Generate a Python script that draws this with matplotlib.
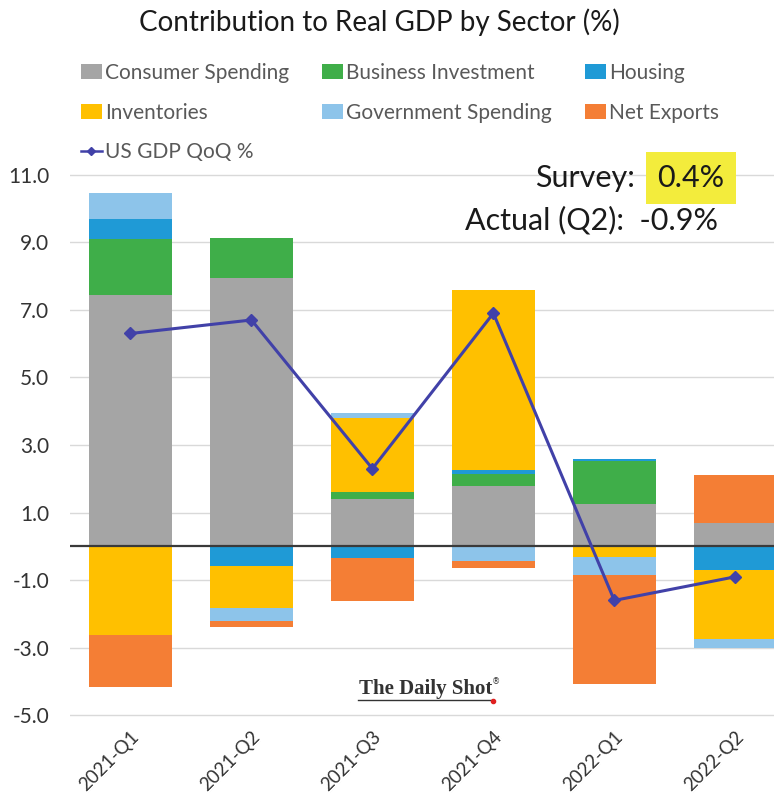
import numpy as np
import matplotlib
matplotlib.use("Agg")
import matplotlib.pyplot as plt
from matplotlib.patches import Patch
from matplotlib.lines import Line2D

plt.rcParams['font.family'] = ['Lato', 'DejaVu Sans']

quarters = ['2021-Q1', '2021-Q2', '2021-Q3', '2021-Q4', '2022-Q1', '2022-Q2']

consumer = [7.44, 7.93, 1.39, 1.78, 1.26, 0.69]
business = [1.66, 1.21, 0.22, 0.37, 1.28, 0.0]
housing = [0.60, -0.58, -0.35, 0.12, 0.04, -0.70]
inventories = [-2.63, -1.25, 2.18, 5.32, -0.32, -2.03]
government = [0.76, -0.37, 0.17, -0.43, -0.52, -0.29]
net_exports = [-1.53, -0.18, -1.28, -0.22, -3.22, 1.43]
gdp = [6.3, 6.7, 2.3, 6.9, -1.6, -0.9]

series = [
    ('Consumer Spending', consumer, '#A5A5A5'),
    ('Business Investment', business, '#3FAE49'),
    ('Housing', housing, '#1F9AD6'),
    ('Inventories', inventories, '#FFC000'),
    ('Government Spending', government, '#8DC4EA'),
    ('Net Exports', net_exports, '#F47E35'),
]
line_color = '#4141A8'
text_color = '#333333'

fig = plt.figure(figsize=(7.74, 7.98), dpi=100)
ax = fig.add_axes([70/774, 81/798, 1 - 70/774, 544/798])

x = np.arange(len(quarters))
width = 0.69
pos_base = np.zeros(len(x))
neg_base = np.zeros(len(x))
for name, vals, col in series:
    v = np.array(vals)
    bottom = np.where(v >= 0, pos_base, neg_base)
    ax.bar(x, v, width, bottom=bottom, color=col, zorder=2, linewidth=0)
    pos_base += np.clip(v, 0, None)
    neg_base += np.clip(v, None, 0)

ax.plot(x, gdp, color=line_color, lw=2.2, marker='D', ms=6, zorder=4)
ax.axhline(0, color='#3a3a3a', lw=1.6, zorder=3)

ax.set_xlim(-0.5, 5.32)
ax.set_ylim(-5.05, 11.05)
yt = np.arange(-5, 12, 2)
ax.set_yticks(yt)
ax.set_yticklabels([f"{t:.1f}" for t in yt], fontsize=15, color=text_color)
ax.yaxis.grid(True, color='#D9D9D9', lw=1, zorder=0)
ax.tick_params(axis='y', length=0, pad=15)
ax.tick_params(axis='x', length=0, pad=8)
ax.set_xticks(x)
ax.set_xticklabels(quarters, rotation=45, ha='right', rotation_mode='anchor',
                   fontsize=13.5, color=text_color)
for s in ax.spines.values():
    s.set_visible(False)

fig.text(0.49, 1 - 22/798, 'Contribution to Real GDP by Sector (%)', ha='center',
         va='center', fontsize=20, color='#1a1a1a')

handles = [Patch(facecolor=c, edgecolor='none') for _, _, c in series]
labels = [n for n, _, _ in series]
gdp_handle = Line2D([], [], color=line_color, marker='D', ms=4, lw=1.8)
order = [0, 3, None, 1, 4, 2, 5]
h_ord, l_ord = [], []
for o in order:
    if o is None:
        h_ord.append(gdp_handle)
        l_ord.append('US GDP QoQ %')
    else:
        h_ord.append(handles[o])
        l_ord.append(labels[o])
leg = fig.legend(h_ord, l_ord, ncol=3, loc='upper left',
                 bbox_to_anchor=(62/774, 1 - 44/798), frameon=False,
                 fontsize=15, handlelength=1.0, handleheight=0.75,
                 handletextpad=0.15, columnspacing=1.6, labelspacing=0.95)
for t in leg.get_texts():
    t.set_color('#595959')

fig.text(635/774, 1 - 178/798, 'Survey:', ha='right', va='center',
         fontsize=22, color='#1a1a1a')
fig.text(691/774, 1 - 178/798, '0.4%', ha='center', va='center',
         fontsize=22, color='#1a1a1a',
         bbox=dict(boxstyle='square,pad=0.38', facecolor='#F3EC3C', edgecolor='none'))
fig.text(718/774, 1 - 220/798, 'Actual (Q2):  -0.9%', ha='right', va='center',
         fontsize=22, color='#1a1a1a')

# watermark
fig.text(426/774, 1 - 689/798, 'The Daily Shot', ha='center', va='center',
         fontsize=15, fontweight='bold', family='Liberation Serif', color='#333333')
fig.text(496/774, 1 - 682/798, '®', ha='center', va='center', fontsize=6,
         family='DejaVu Sans', color='#333333')
fig.add_artist(Line2D([358/774, 492/774], [1 - 700/798, 1 - 700/798],
                      color='#333333', lw=1))
fig.add_artist(Line2D([493/774], [1 - 701/798], marker='o', ms=3,
                      color='#E02020', lw=0))

fig.savefig('out.png', dpi=100)
